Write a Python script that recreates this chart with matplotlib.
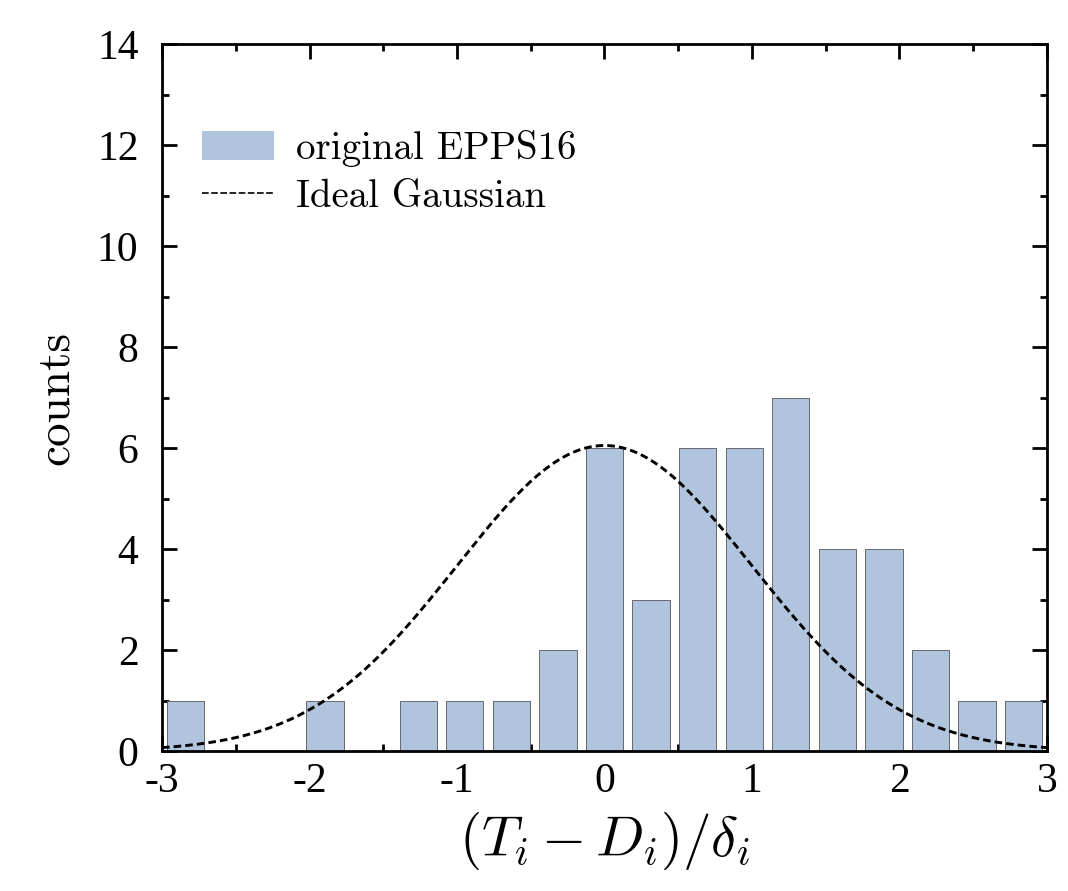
import numpy as np
import matplotlib
matplotlib.use("Agg")
import matplotlib.pyplot as plt
from matplotlib.ticker import MultipleLocator
from matplotlib.patches import Patch
from matplotlib.lines import Line2D

plt.rcParams['font.family'] = ['cmr10', 'DejaVu Serif']
plt.rcParams['mathtext.fontset'] = 'cm'
plt.rcParams['axes.unicode_minus'] = False
plt.rcParams['axes.formatter.use_mathtext'] = False

# histogram: 19 bins between -3 and 3
bin_edges_lo = -3.0
bin_edges_hi = 3.0
counts = [1, 0, 0, 1, 0, 1, 1, 1, 2, 6, 3, 6, 6, 7, 4, 4, 2, 1, 1]

# ideal gaussian (unit width), peak height
gauss_peak = 6.05
gauss_sigma = 1.0

bar_color = '#b0c4de'

nbins = len(counts)
edges = np.linspace(bin_edges_lo, bin_edges_hi, nbins + 1)
centers = 0.5 * (edges[:-1] + edges[1:])
width = edges[1] - edges[0]

fig = plt.figure(figsize=(10.68, 8.91), dpi=100)
ax = fig.add_axes([0.1517, 0.1571, 0.8286, 0.7935])

ax.bar(centers, counts, width=0.8 * width, color=bar_color,
       edgecolor='#555555', linewidth=0.6, zorder=2)

xs = np.linspace(-3, 3, 400)
ax.plot(xs, gauss_peak * np.exp(-0.5 * (xs / gauss_sigma) ** 2), color='black',
        linestyle=(0, (2.6, 1.4)), linewidth=2.1, zorder=3)

ax.set_xlim(-3, 3)
ax.set_ylim(0, 14)
ax.xaxis.set_major_locator(MultipleLocator(1))
ax.xaxis.set_minor_locator(MultipleLocator(0.5))
ax.yaxis.set_major_locator(MultipleLocator(2))
ax.yaxis.set_minor_locator(MultipleLocator(1))
ax.tick_params(which='both', direction='in', top=True, right=True, width=2,
               labelsize=30, labelfontfamily='Liberation Serif')
ax.tick_params(which='major', length=11)
ax.tick_params(which='minor', length=5)
ax.tick_params(axis='x', which='major', pad=8)
ax.tick_params(axis='y', which='major', pad=17)
for s in ax.spines.values():
    s.set_linewidth(2)

ax.set_xlabel(r'$(T_i - D_i)/\delta_i$', fontsize=41, labelpad=7)
ax.set_ylabel('counts', fontsize=34, labelpad=14)

handles = [Patch(facecolor=bar_color, edgecolor='none', label='original EPPS16'),
           Line2D([], [], color='black', linestyle=(0, (4, 1.5)), linewidth=1.2,
                  label='Ideal Gaussian')]
ax.legend(handles=handles, loc='upper left', bbox_to_anchor=(0.028, 0.90),
          frameon=False, fontsize=28, handlelength=1.85, handleheight=0.75,
          handletextpad=0.55, labelspacing=0.3, borderaxespad=0)

fig.savefig('out.png', dpi=100)
